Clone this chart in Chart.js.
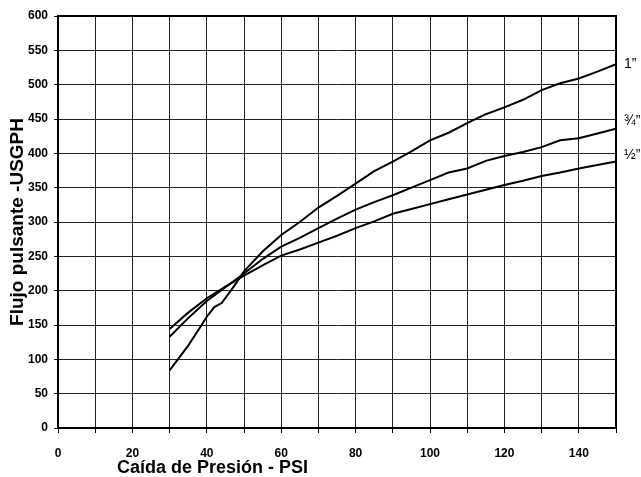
<!DOCTYPE html>
<html>
<head>
<meta charset="utf-8">
<script src="https://cdn.jsdelivr.net/npm/chart.js@4"></script>
<style>
html,body{margin:0;padding:0;background:#fff;}
#wrap{width:641px;height:477px;position:relative;}
</style>
</head>
<body>
<div id="wrap"><canvas id="c" width="641" height="477"></canvas></div>
<script>
// Data
const psiOne   = [30, 35, 38, 40, 42, 44, 47, 50, 55, 60, 65, 70, 75, 80, 85, 90, 95, 100, 105, 110, 115, 120, 125, 130, 135, 140, 145, 150];
const flowOne  = [84, 120, 145, 162, 176, 182, 204, 228, 257, 281, 300, 321, 338, 356, 374, 388, 403, 419, 430, 444, 457, 467, 478, 492, 502, 509, 519, 530];
const psiStd   = [30, 35, 40, 45, 50, 55, 60, 65, 70, 75, 80, 85, 90, 95, 100, 105, 110, 115, 120, 125, 130, 135, 140, 145, 150];
const flowThreeQuarter = [133, 160, 185, 205, 225, 246, 264, 277, 291, 305, 318, 329, 339, 350, 361, 372, 378, 389, 396, 402, 409, 419, 422, 429, 436];
const flowHalf = [144, 168, 189, 206, 222, 237, 251, 260, 270, 280, 291, 301, 312, 319, 326, 333, 340, 347, 354, 360, 367, 372, 378, 383, 388];
const seriesNames = ['1\u201D', '\u00BE\u201D', '\u00BD\u201D'];
const xTitle = 'Caída de Presión - PSI';
const yTitle = 'Flujo pulsante -USGPH';

const toPts = (xs, ys) => xs.map((x, i) => ({x: x, y: ys[i]}));

const labelOffsets = [0, -7, -6];

const decor = {
  id: 'decor',
  afterDraw(chart) {
    const ctx = chart.ctx;
    const a = chart.chartArea;
    ctx.save();
    ctx.strokeStyle = '#000';
    ctx.lineWidth = 2;
    ctx.strokeRect(a.left, a.top, a.right - a.left, a.bottom - a.top);
    // curve labels
    ctx.fillStyle = '#000';
    ctx.font = '14px "Liberation Sans", Arial, sans-serif';
    ctx.textAlign = 'left';
    ctx.textBaseline = 'middle';
    chart.data.datasets.forEach((ds, i) => {
      const last = ds.data[ds.data.length - 1];
      const y = chart.scales.y.getPixelForValue(last.y) + labelOffsets[i];
      ctx.fillText(seriesNames[i], a.right + 8, y);
    });
    // axis titles
    ctx.font = 'bold 18px "Liberation Sans", Arial, sans-serif';
    ctx.textBaseline = 'alphabetic';
    ctx.textAlign = 'left';
    ctx.fillText(xTitle, 117, 473);
    ctx.translate(23, (a.top + a.bottom) / 2);
    ctx.rotate(-Math.PI / 2);
    ctx.textAlign = 'center';
    ctx.font = 'bold 19px "Liberation Sans", Arial, sans-serif';
    ctx.fillText(yTitle, 0, 0);
    ctx.restore();
  }
};

const tickFont = {family: '"Liberation Sans", Arial, sans-serif', size: 12, weight: 'bold'};

new Chart(document.getElementById('c'), {
  type: 'scatter',
  data: {
    datasets: [
      {label: seriesNames[0], data: toPts(psiOne, flowOne)},
      {label: seriesNames[1], data: toPts(psiStd, flowThreeQuarter)},
      {label: seriesNames[2], data: toPts(psiStd, flowHalf)}
    ].map(d => Object.assign(d, {showLine: true, borderColor: '#000', borderWidth: 2, pointRadius: 0, tension: 0, fill: false}))
  },
  options: {
    responsive: false,
    animation: false,
    devicePixelRatio: 1,
    layout: {padding: {top: 16, right: 25, left: 0, bottom: 0}},
    plugins: {legend: {display: false}, tooltip: {enabled: false}},
    scales: {
      x: {
        type: 'linear', min: 0, max: 150,
        afterFit(s) { s.height = 49; },
        ticks: {stepSize: 10, autoSkip: false, maxRotation: 0, color: '#000', font: tickFont, padding: 13,
          callback: v => (v % 20 === 0 && v < 150) ? String(v) : ''},
        grid: {color: '#222', lineWidth: 1, tickLength: 5, drawTicks: true, tickColor: '#000'},
        border: {display: true, color: '#000', width: 2}
      },
      y: {
        min: 0, max: 600,
        afterFit(s) { s.width = 58; },
        ticks: {stepSize: 50, autoSkip: false, color: '#000', font: tickFont, padding: 6},
        grid: {color: '#222', lineWidth: 1, tickLength: 4, drawTicks: true, tickColor: '#000'},
        border: {display: true, color: '#000', width: 2}
      }
    }
  },
  plugins: [decor]
});
</script>
</body>
</html>
